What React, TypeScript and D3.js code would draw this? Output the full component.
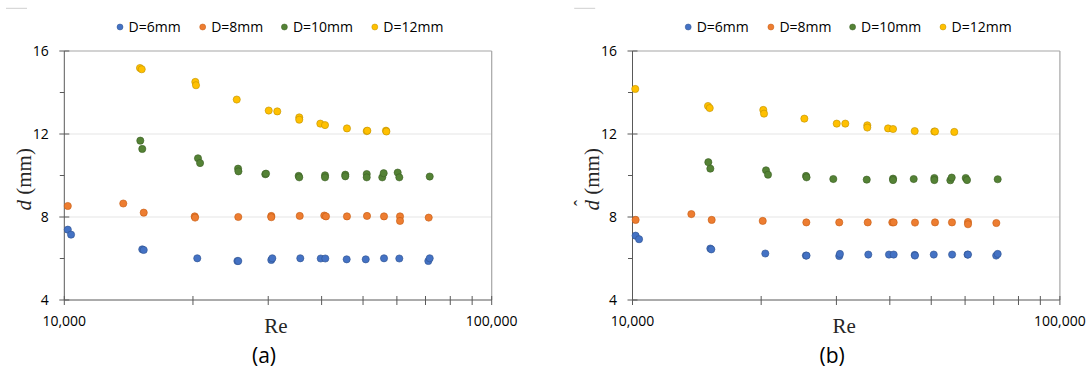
import React from "react";
import * as d3 from "d3";

// ---------- data ----------
const seriesNames = ["D=6mm", "D=8mm", "D=10mm", "D=12mm"];
const seriesFill = ["#4472C4", "#ED7D31", "#548235", "#FFC000"];
const seriesStroke = ["#2F528F", "#C55A11", "#3B5E24", "#BF9000"];

const yTickValues = [4, 8, 12, 16];
const yMinorTicks = [6, 10, 14];
const xTickValues = [10000, 20000, 30000, 40000, 50000, 60000, 70000, 80000, 90000, 100000];
const xTickLabels = ["10,000", "100,000"];

// Panel (a): measured d
const reA6 = [10190, 10370, 15220, 15340, 20470, 25410, 25530, 30500, 30670, 35660, 39810, 40800, 45780, 50730, 55980, 60790, 71070, 71610];
const dA6 = [7.39, 7.15, 6.44, 6.41, 6.01, 5.88, 5.88, 5.93, 6.01, 6.01, 6.0, 6.0, 5.96, 5.96, 6.01, 6.0, 5.88, 6.01];
const reA8 = [10190, 13740, 15340, 20190, 20230, 25530, 30500, 30500, 35550, 40580, 40950, 45850, 51080, 55980, 61020, 61020, 71220];
const dA8 = [8.53, 8.65, 8.21, 8.03, 7.97, 8.0, 8.05, 7.99, 8.05, 8.07, 8.03, 8.03, 8.05, 8.03, 8.03, 7.81, 7.97];
const reA10 = [15060, 15220, 20550, 20780, 25500, 25550, 29530, 29640, 35350, 35460, 40740, 40740, 45440, 45440, 51000, 51000, 55460, 55880, 60260, 60790, 71610];
const dA10 = [11.68, 11.28, 10.83, 10.6, 10.33, 10.2, 10.06, 10.09, 9.98, 9.91, 10.01, 9.91, 10.04, 9.96, 10.07, 9.91, 9.91, 10.11, 10.14, 9.91, 9.95];
const reA12 = [15035, 15175, 20255, 20330, 25320, 30080, 31500, 35460, 35460, 39720, 40740, 45850, 51000, 51170, 56580, 56700];
const dA12 = [15.18, 15.12, 14.51, 14.35, 13.66, 13.13, 13.09, 12.8, 12.69, 12.5, 12.43, 12.27, 12.14, 12.16, 12.16, 12.12];

// Panel (b): predicted d-hat
const reB6 = [10170, 10360, 15210, 15290, 20450, 25450, 25540, 30460, 30570, 35620, 39820, 40840, 45740, 45800, 50680, 55950, 60800, 60950, 70940, 71520];
const dB6 = [7.1, 6.93, 6.48, 6.44, 6.24, 6.14, 6.14, 6.12, 6.22, 6.19, 6.19, 6.19, 6.17, 6.14, 6.19, 6.19, 6.19, 6.19, 6.14, 6.22];
const reB8 = [10170, 13730, 15320, 20170, 25510, 30460, 35510, 40540, 40840, 45810, 51030, 55910, 60950, 60950, 71000];
const dB8 = [7.86, 8.14, 7.86, 7.81, 7.74, 7.74, 7.74, 7.74, 7.74, 7.73, 7.74, 7.74, 7.76, 7.65, 7.71];
const reB10 = [15045, 15210, 20530, 20750, 25470, 25540, 29500, 35320, 40700, 40700, 45490, 50840, 50840, 55420, 55830, 60210, 60630, 71520];
const dB10 = [10.64, 10.33, 10.25, 10.04, 9.98, 9.91, 9.83, 9.8, 9.85, 9.78, 9.83, 9.88, 9.78, 9.77, 9.9, 9.88, 9.78, 9.82];
const reB12 = [10150, 15020, 15160, 20230, 20310, 25240, 30050, 31470, 35430, 35430, 39620, 40700, 45740, 50840, 51030, 56610];
const dB12 = [14.17, 13.35, 13.25, 13.16, 12.98, 12.74, 12.5, 12.5, 12.42, 12.31, 12.27, 12.24, 12.14, 12.12, 12.12, 12.1];

const panelA = { re: [reA6, reA8, reA10, reA12], d: [dA6, dA8, dA10, dA12] };
const panelB = { re: [reB6, reB8, reB10, reB12], d: [dB6, dB8, dB10, dB12] };

const SANS = "'Open Sans', 'Noto Sans', sans-serif";
const SERIF = "'Liberation Serif', 'DejaVu Serif', serif";

type PanelProps = {
  ox: number;
  data: { re: number[][]; d: number[][] };
  hat: boolean;
  caption: string;
};

function Panel({ ox, data, hat, caption }: PanelProps) {
  const left = 64.3 + ox;
  const right = 491.7 + ox;
  const top = 51;
  const bottom = 300;
  const x = d3.scaleLog().domain([10000, 100000]).range([left, right]);
  const y = d3.scaleLinear().domain([4, 16]).range([bottom, top]);

  const legendMarkerX = [120, 202.7, 284.4, 374.8];
  const legendY = 27;
  const cx = (left + right) / 2;

  return (
    <g>
      {/* small decoration line */}
      <line x1={6 + ox} x2={27 + ox} y1={8.3} y2={8.3} stroke="#cfcfcf" strokeWidth={1} />

      {/* legend */}
      {seriesNames.map((n, i) => (
        <g key={n}>
          <circle cx={legendMarkerX[i] + ox} cy={legendY} r={3} fill={seriesFill[i]} stroke={seriesStroke[i]} strokeWidth={0.5} />
          <text x={legendMarkerX[i] + ox + 8.5} y={legendY} dy="0.35em" fontFamily={SANS} fontSize={14} fill="#000">
            {n}
          </text>
        </g>
      ))}

      {/* gridlines */}
      {[8, 12].map((v) => (
        <line key={v} x1={left} x2={right} y1={y(v)} y2={y(v)} stroke="#e6e6e6" strokeWidth={1.2} />
      ))}
      {/* top + right border */}
      <line x1={left} x2={right} y1={y(16)} y2={y(16)} stroke="#a6a6a6" strokeWidth={1.2} />
      <line x1={right} x2={right} y1={top} y2={bottom} stroke="#a6a6a6" strokeWidth={1.2} />

      {/* axes */}
      <line x1={left} x2={left} y1={top} y2={bottom} stroke="#595959" strokeWidth={1} />
      <line x1={left} x2={right} y1={bottom} y2={bottom} stroke="#595959" strokeWidth={1} />

      {/* y ticks */}
      {yTickValues.map((v) => (
        <g key={v}>
          <line x1={left - 5} x2={left + 5} y1={y(v)} y2={y(v)} stroke="#595959" strokeWidth={1} />
          <text x={left - 15.5} y={y(v)} dy="0.35em" textAnchor="end" fontFamily={SANS} fontSize={14} fill="#000">
            {v}
          </text>
        </g>
      ))}
      {yMinorTicks.map((v) => (
        <line key={v} x1={left - 4.5} x2={left} y1={y(v)} y2={y(v)} stroke="#595959" strokeWidth={1} />
      ))}

      {/* x ticks */}
      {xTickValues.map((v) => (
        <line key={v} x1={x(v)} x2={x(v)} y1={bottom - 4} y2={bottom + 5} stroke="#595959" strokeWidth={1} />
      ))}
      {[10000, 100000].map((v, i) => (
        <text key={v} x={x(v)} y={321.5} dy="0.35em" textAnchor="middle" fontFamily={SANS} fontSize={14} fill="#000">
          {xTickLabels[i]}
        </text>
      ))}

      {/* axis titles */}
      <text x={cx - 2} y={333} textAnchor="middle" fontFamily={SERIF} fontSize={21} fill="#262626">
        Re
      </text>
      <g transform={`translate(${31 + ox},${178.5}) rotate(-90)`}>
        <text x={-32} y={0} textAnchor="start" fontFamily={SERIF} fontSize={21} fill="#262626">
          <tspan fontStyle="italic">d</tspan>
          <tspan> (mm)</tspan>
        </text>
        {hat && (
          <text x={-24.5} y={-12} textAnchor="middle" fontFamily={SERIF} fontSize={18} fill="#262626">
            ˆ
          </text>
        )}
      </g>

      {/* caption */}
      <text x={264 + ox} y={356} dy="0.35em" textAnchor="middle" fontFamily={SANS} fontSize={21} fill="#000">
        {caption}
      </text>

      {/* points */}
      {data.re.map((reArr, si) =>
        reArr.map((r, j) => (
          <circle
            key={`${si}-${j}`}
            cx={x(r)}
            cy={y(data.d[si][j])}
            r={3.6}
            fill={seriesFill[si]}
            stroke={seriesStroke[si]}
            strokeWidth={0.6}
          />
        ))
      )}
    </g>
  );
}

export default function App() {
  return (
    <svg
      width={1091}
      height={375}
      viewBox="0 0 1091 375"
      style={{ position: "absolute", left: 0, top: 0, background: "#fff" }}
    >
      <rect x={0} y={0} width={1091} height={375} fill="#fff" />
      <Panel ox={0} data={panelA} hat={false} caption="(a)" />
      <Panel ox={568.2} data={panelB} hat={true} caption="(b)" />
    </svg>
  );
}
